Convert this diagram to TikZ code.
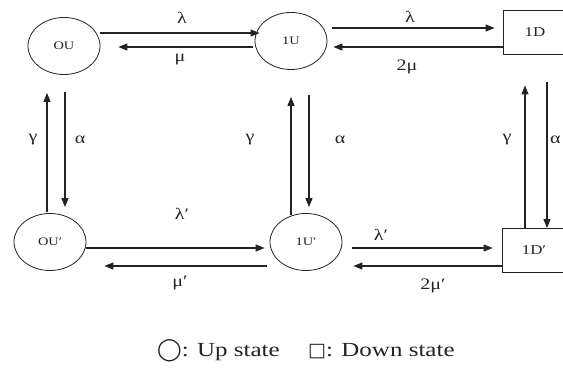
\documentclass[tikz,border=0pt]{standalone}
\usepackage{fontspec}
\setmainfont{Liberation Serif}[FakeStretch=1.25]
\newfontfamily\symfont{DejaVu Sans}
\usetikzlibrary{shapes.geometric,arrows.meta}
\definecolor{ink}{RGB}{35,35,35}
\begin{document}
\begin{tikzpicture}[x=1pt,y=-1pt,
  every node/.style={text=ink},
  st/.style={draw=ink, ellipse, line width=0.8pt, minimum width=72pt, minimum height=57pt, inner sep=0pt, font=\fontsize{11.5}{13}\selectfont},
  dn/.style={draw=ink, rectangle, line width=0.8pt, minimum width=64pt, minimum height=44pt, inner sep=0pt, font=\fontsize{13.5}{15}\selectfont},
  arr/.style={draw=ink, -{Triangle[length=9pt,width=7pt]}, line width=1.1pt},
  lbl/.style={font=\fontsize{16}{18}\selectfont, inner sep=0pt},
  legend/.style={font=\fontsize{20}{22}\selectfont, anchor=base west, inner sep=0pt}]
\useasboundingbox (0,0) rectangle (563,374);
% states
\node[st] (OU) at (64,46) {OU};
\node[st] (U1) at (291,41) {1U};
\node[dn] (D1) at (535,32) {1D};
\node[st] (OUp) at (50,242) {OU′};
\node[st] (U1p) at (306,242) {1U′};
\node[dn] (D1p) at (534,250.5) {1D′};
% top row
\draw[arr] ([yshift=13pt]OU.east) -- ([xshift=5pt,yshift=8pt]U1.west);
\draw[arr] ([xshift=-2pt,yshift=-6pt]U1.west) -- ([xshift=18pt,yshift=-1pt]OU.east);
\draw[arr] ([xshift=5pt,yshift=13pt]U1.east) -- ([xshift=-8pt,yshift=4pt]D1.west);
\draw[arr] ([yshift=-15pt]D1.west) -- ([xshift=6pt,yshift=-6pt]U1.east);
% bottom row
\draw[arr] ([yshift=-6pt]OUp.east) -- ([xshift=-5pt,yshift=-6pt]U1p.west);
\draw[arr] ([xshift=-3pt,yshift=-24pt]U1p.west) -- ([xshift=18pt,yshift=-24pt]OUp.east);
\draw[arr] ([xshift=10pt,yshift=-6pt]U1p.east) -- ([xshift=-9pt,yshift=2.5pt]D1p.west);
\draw[arr] ([yshift=-15.5pt]D1p.west) -- ([xshift=11pt,yshift=-24pt]U1p.east);
% verticals
\draw[arr] ([xshift=-3pt,yshift=1pt]OUp.north) -- ([xshift=-17pt,yshift=-18pt]OU.south);
\draw[arr] ([xshift=1pt,yshift=-17pt]OU.south) -- ([xshift=15pt,yshift=6pt]OUp.north);
\draw[arr] ([xshift=-15pt,yshift=-2pt]U1p.north) -- ([yshift=-27pt]U1.south);
\draw[arr] ([xshift=18pt,yshift=-25pt]U1.south) -- ([xshift=3pt,yshift=6pt]U1p.north);
\draw[arr] ([xshift=-9pt]D1p.north) -- ([xshift=-10pt,yshift=-31pt]D1.south);
\draw[arr] ([xshift=12pt,yshift=-28pt]D1.south) -- ([xshift=13pt]D1p.north);
% rate labels
\node[lbl] (l1) at (182,18) {λ};
\node[lbl] (m1) at (180,60) {μ};
\node[lbl] (l2) at (410,17) {λ};
\node[lbl] (m2) at (407,67) {2μ};
\node[lbl] (l3) at (182,214) {λ′};
\node[lbl] (m3) at (180,283) {μ′};
\node[lbl] (l4) at (381,235) {λ′};
\node[lbl] (m4) at (433,286) {2μ′};
\node[lbl] (g1) at (33,140) {γ};
\node[lbl] (a1) at (80,140) {α};
\node[lbl] (g2) at (250,140) {γ};
\node[lbl] (a2) at (340,140) {α};
\node[lbl] (g3) at (507,140) {γ};
\node[lbl,anchor=west] (a3) at (550,140) {α};
% legend
\node[legend] (leg1) at (157,357) {{\symfont\fontsize{22}{22}\selectfont ◯}: Up state};
\node[legend] (leg2) at (308,357) {{\symfont\fontsize{19}{20}\selectfont □}: Down state};
\end{tikzpicture}
\end{document}
